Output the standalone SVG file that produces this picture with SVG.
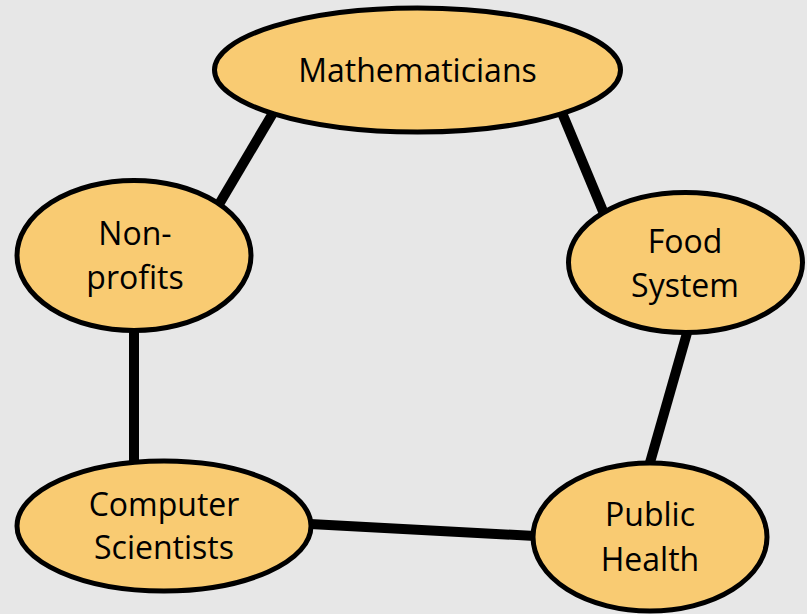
<svg xmlns="http://www.w3.org/2000/svg" width="807" height="614" viewBox="0 0 807 614">
<style>
.node ellipse{fill:#f9cb72;stroke:#000;stroke-width:5}
.node text{font-family:"Open Sans","Liberation Sans",sans-serif;font-size:32px;fill:#000;text-anchor:middle}
#connectors line{stroke:#000;stroke-width:10}
</style>
<rect width="807" height="614" fill="#e7e7e7"/>
<g id="connectors">
<line x1="276" y1="108" x2="218" y2="206"/>
<line x1="560" y1="108" x2="605" y2="216"/>
<line x1="687" y1="333" x2="649" y2="466"/>
<line x1="134" y1="330" x2="134" y2="462"/>
<line x1="310" y1="524" x2="535" y2="536"/>
</g>
<g id="mathematicians" class="node">
<ellipse cx="417.5" cy="70" rx="203" ry="62"/>
<text x="417.5" y="82">Mathematicians</text>
</g>
<g id="nonprofits" class="node">
<ellipse cx="134" cy="255.5" rx="117" ry="75"/>
<text x="135" y="245">Non-</text>
<text x="135" y="289">profits</text>
</g>
<g id="foodsystem" class="node">
<ellipse cx="685.5" cy="262.5" rx="117" ry="70"/>
<text x="685" y="253">Food</text>
<text x="685" y="297">System</text>
</g>
<g id="computerscientists" class="node">
<ellipse cx="164" cy="526" rx="147" ry="65"/>
<text x="164" y="516">Computer</text>
<text x="164" y="559">Scientists</text>
</g>
<g id="publichealth" class="node">
<ellipse cx="650" cy="537" rx="117" ry="74"/>
<text x="650" y="526">Public</text>
<text x="650" y="571">Health</text>
</g>
</svg>
